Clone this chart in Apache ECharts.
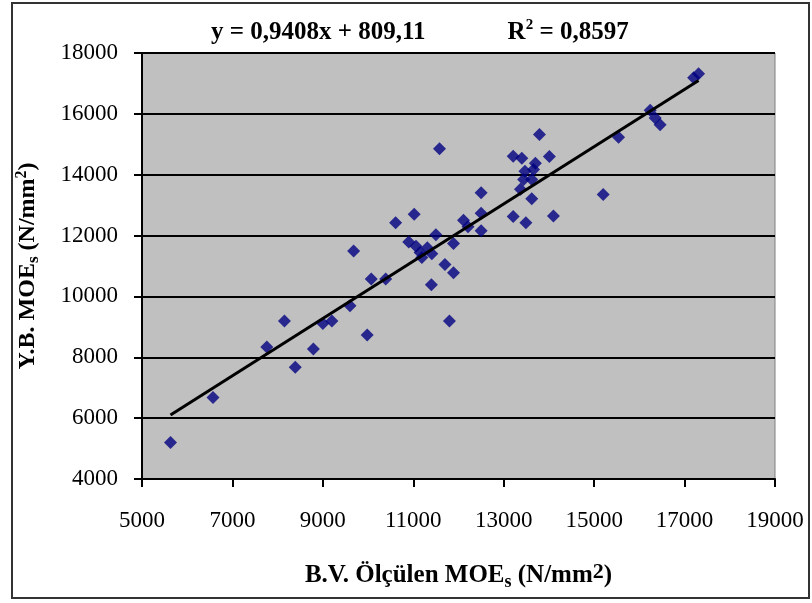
<!DOCTYPE html>
<html>
<head>
<meta charset="utf-8">
<script src="https://cdn.jsdelivr.net/npm/echarts@6/dist/echarts.min.js"></script>
<style>
  html, body { margin: 0; padding: 0; background: #fff; }
  #chart { width: 812px; height: 603px; }
</style>
</head>
<body>
<div id="chart"></div>
<script>
// measured MOE (x) vs predicted MOE (y), N/mm2
const measured = [
  5630, 6570, 7760, 8150, 8390, 8790, 9000, 9200, 9600, 9680,
  9980, 10070, 10390, 10610, 11020, 10900, 11060, 11150, 11190, 11310,
  11410, 11400, 11500, 11580, 11700, 11800, 11890, 11890, 12110, 12210,
  12500, 12500, 12500, 13210, 13400, 14010, 13700, 13660, 13470, 13440,
  13620, 13370, 13620, 13790, 13210, 13490, 14100, 15200, 15540, 16240,
  16350, 16460, 17200, 17310
];
const predicted = [
  5200, 6680, 8340, 9190, 7670, 8270, 9110, 9190, 9690, 11490,
  8730, 10570, 10570, 12420, 12700, 11790, 11650, 11440, 11280, 11600,
  11400, 10380, 12030, 14850, 11050, 9190, 10780, 11740, 12500, 12290,
  12730, 12160, 13410, 14610, 14540, 14600, 14380, 14170, 14110, 13840,
  13840, 13520, 13210, 15320, 12630, 12420, 12640, 13350, 15230, 16120,
  15860, 15640, 17190, 17320
];
const xTicks = [5000, 7000, 9000, 11000, 13000, 15000, 17000, 19000];
const yTicks = [4000, 6000, 8000, 10000, 12000, 14000, 16000, 18000];
const slope = 0.9408;
const intercept = 809.11;
const rSquared = "0,8597";

const points = measured.map((x, i) => [x, predicted[i]]);
const xMin = Math.min(...measured);
const xMax = Math.max(...measured);
const trend = [xMin, xMax].map((x) => [x, slope * x + intercept]);

const serif = "'Liberation Serif', 'Times New Roman', serif";
const chart = echarts.init(document.getElementById("chart"));
chart.setOption({
  animation: false,
  backgroundColor: "#fff",
  textStyle: { fontFamily: serif },
  title: {
    left: 206,
    top: 13,
    text:
      "{b|y = " + String(slope).replace(".", ",") + "x + " +
      String(intercept).replace(".", ",") + "}{gap|}{b|R}{sup|2}{b| = " + rSquared + "}",
    textStyle: {
      rich: {
        b: { fontFamily: serif, fontWeight: "bold", fontSize: 25, color: "#000", lineHeight: 30 },
        sup: { fontFamily: serif, fontWeight: "bold", fontSize: 15, color: "#000", verticalAlign: "top", lineHeight: 30 },
        gap: { width: 82 },
      },
    },
  },
  grid: {
    left: 142,
    right: 37,
    top: 53,
    bottom: 124,
    show: true,
    backgroundColor: "#c0c0c0",
    borderColor: "#808080",
    borderWidth: 1,
  },
  xAxis: {
    type: "value",
    min: xTicks[0],
    max: xTicks[xTicks.length - 1],
    interval: 2000,
    name: "{b|B.V. Ölçülen MOE}{sub|s}{b| (N/mm}{sup|2}{b|)}",
    nameLocation: "middle",
    nameGap: 82,
    nameTextStyle: {
      rich: {
        b: { fontFamily: serif, fontWeight: "bold", fontSize: 25, color: "#000", lineHeight: 30 },
        sub: { fontFamily: serif, fontWeight: "bold", fontSize: 18, color: "#000", verticalAlign: "bottom", lineHeight: 30 },
        sup: { fontFamily: serif, fontWeight: "bold", fontSize: 22, color: "#000", verticalAlign: "top", lineHeight: 30 },
      },
    },
    axisLine: { lineStyle: { color: "#000", width: 2 } },
    axisTick: { show: true, inside: false, length: 8, lineStyle: { color: "#000", width: 2 } },
    axisLabel: { color: "#000", fontSize: 23, fontFamily: serif, margin: 30, formatter: (v) => String(v) },
    splitLine: { show: false },
  },
  yAxis: {
    type: "value",
    min: yTicks[0],
    max: yTicks[yTicks.length - 1],
    interval: 2000,
    name: "{b|Y.B. MOE}{sub|s}{b| (N/mm}{sup|2}{b|)}",
    nameLocation: "middle",
    nameRotate: 90,
    nameGap: 100,
    nameTextStyle: {
      rich: {
        b: { fontFamily: serif, fontWeight: "bold", fontSize: 24, color: "#000", lineHeight: 28 },
        sub: { fontFamily: serif, fontWeight: "bold", fontSize: 17, color: "#000", verticalAlign: "bottom", lineHeight: 28 },
        sup: { fontFamily: serif, fontWeight: "bold", fontSize: 16, color: "#000", verticalAlign: "top", lineHeight: 28 },
      },
    },
    axisLine: { show: true, lineStyle: { color: "#000", width: 2 } },
    axisTick: { show: true, inside: false, length: 8, lineStyle: { color: "#000", width: 2 } },
    axisLabel: { color: "#000", fontSize: 23, fontFamily: serif, margin: 24, formatter: (v) => String(v) },
    splitLine: { show: true, lineStyle: { color: "#000", width: 2 } },
  },
  series: [
    {
      name: "MOE",
      type: "scatter",
      data: points,
      symbol: "diamond",
      symbolSize: 13,
      itemStyle: { color: "#000080" },
      z: 3,
    },
    {
      name: "Trend",
      type: "line",
      data: trend,
      showSymbol: false,
      lineStyle: { color: "#000", width: 3 },
      z: 4,
    },
  ],
  graphic: [
    {
      type: "rect",
      shape: { x: 12, y: 3, width: 797, height: 595 },
      style: { fill: "none", stroke: "#333", lineWidth: 2 },
      silent: true,
    },
  ],
});
</script>
</body>
</html>
